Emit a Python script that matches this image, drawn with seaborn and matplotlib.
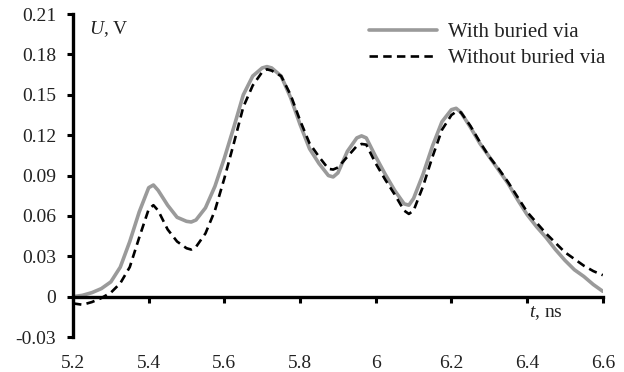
import numpy as np
import pandas as pd
import matplotlib
matplotlib.use("Agg")
import matplotlib.pyplot as plt
import seaborn as sns

# time axis, ns
t_ns = [5.2, 5.225, 5.25, 5.275, 5.3, 5.325, 5.35, 5.375, 5.4, 5.4125, 5.425,
        5.45, 5.475, 5.5, 5.5125, 5.525, 5.55, 5.575, 5.6, 5.625, 5.65, 5.675,
        5.7, 5.7125, 5.725, 5.75, 5.775, 5.8, 5.825, 5.85, 5.875, 5.8875, 5.9, 5.925,
        5.95, 5.9625, 5.975, 6.0, 6.025, 6.05, 6.075, 6.0875, 6.1, 6.125, 6.15, 6.175,
        6.2, 6.2125, 6.225, 6.25, 6.275, 6.3, 6.325, 6.35, 6.375, 6.4, 6.425,
        6.45, 6.475, 6.5, 6.525, 6.55, 6.575, 6.6]

# voltage, V
u_with = [0.000, 0.001, 0.003, 0.006, 0.011, 0.022, 0.041, 0.063, 0.081, 0.083, 0.079,
          0.068, 0.059, 0.056, 0.0555, 0.057, 0.066, 0.082, 0.103, 0.126, 0.150, 0.164,
          0.170, 0.171, 0.170, 0.164, 0.148, 0.128, 0.110, 0.099, 0.090, 0.089, 0.092, 0.108,
          0.118, 0.1195, 0.118, 0.104, 0.091, 0.079, 0.069, 0.068, 0.073, 0.091, 0.112, 0.130,
          0.139, 0.140, 0.137, 0.126, 0.114, 0.104, 0.094, 0.084, 0.072, 0.061, 0.052,
          0.044, 0.035, 0.027, 0.020, 0.015, 0.009, 0.004]

u_without = [-0.005, -0.006, -0.004, -0.001, 0.003, 0.010, 0.022, 0.044, 0.065, 0.068, 0.064,
             0.050, 0.041, 0.036, 0.035, 0.037, 0.047, 0.064, 0.088, 0.114, 0.141, 0.157,
             0.167, 0.169, 0.168, 0.164, 0.150, 0.131, 0.114, 0.104, 0.095, 0.0945, 0.096, 0.104,
             0.112, 0.1135, 0.113, 0.099, 0.087, 0.076, 0.064, 0.0615, 0.064, 0.082, 0.104, 0.124,
             0.135, 0.1375, 0.137, 0.127, 0.115, 0.104, 0.095, 0.085, 0.074, 0.063, 0.055,
             0.047, 0.040, 0.033, 0.028, 0.023, 0.019, 0.016]

x_ticks = [5.2, 5.4, 5.6, 5.8, 6.0, 6.2, 6.4, 6.6]
x_labels = ["5.2", "5.4", "5.6", "5.8", "6", "6.2", "6.4", "6.6"]
y_ticks = [-0.03, 0, 0.03, 0.06, 0.09, 0.12, 0.15, 0.18, 0.21]
y_labels = ["-0.03", "0", "0.03", "0.06", "0.09", "0.12", "0.15", "0.18", "0.21"]

df = pd.DataFrame({"t": t_ns + t_ns,
                   "U": u_with + u_without,
                   "series": ["With buried via"] * len(t_ns) + ["Without buried via"] * len(t_ns)})

sns.set_style("white")
plt.rcParams["font.family"] = ["Liberation Serif", "DejaVu Serif"]
plt.rcParams["mathtext.fontset"] = "custom"
plt.rcParams["mathtext.rm"] = "Liberation Serif"
plt.rcParams["mathtext.it"] = "Liberation Serif:italic"
plt.rcParams["axes.unicode_minus"] = False

fig = plt.figure(figsize=(6.24, 3.72), dpi=100)
ax = fig.add_axes([0.117, 0.094, 0.849, 0.868])

sns.lineplot(data=df[df["series"] == "With buried via"], x="t", y="U",
             color="#9a9a9a", linewidth=2.6, label="With buried via", ax=ax)
sns.lineplot(data=df[df["series"] == "Without buried via"], x="t", y="U",
             color="black", linewidth=1.9, linestyle=(0, (3.2, 2.0)),
             label="Without buried via", ax=ax)

ax.set_xlim(5.2, 6.6)
ax.set_ylim(-0.03, 0.21)
ax.set_xticks(x_ticks)
ax.set_xticklabels(x_labels)
ax.set_yticks(y_ticks)
ax.set_yticklabels(y_labels)
ax.set_xlabel("")
ax.set_ylabel("")

for s in ["top", "right"]:
    ax.spines[s].set_visible(False)
ax.spines["bottom"].set_position(("data", 0))
ax.spines["left"].set_linewidth(2.4)
ax.spines["bottom"].set_linewidth(2.4)
ax.spines["left"].set_color("black")
ax.spines["bottom"].set_color("black")

ax.tick_params(axis="y", direction="out", length=4, width=2.2, pad=8,
               labelsize=14, left=True, colors="black")
ax.tick_params(axis="x", direction="out", length=4, width=2.2, pad=38,
               labelsize=14, bottom=True, colors="black")
for lab in ax.get_xticklabels() + ax.get_yticklabels():
    lab.set_color("#222222")

ax.text(0.03, 0.955, r"$U$, V", transform=ax.transAxes, fontsize=14,
        ha="left", va="center", color="#222222")
ax.text(0.86, 0.075, r"$t$, ns", transform=ax.transAxes, fontsize=14,
        ha="left", va="center", color="#222222")

leg = ax.legend(loc="upper right", bbox_to_anchor=(1.02, 1.0), frameon=False,
                fontsize=15, handlelength=3.3, handletextpad=0.5,
                labelspacing=0.3, borderaxespad=0.0)
for txt in leg.get_texts():
    txt.set_color("#222222")

fig.savefig("out.png", dpi=100)
plt.close(fig)
